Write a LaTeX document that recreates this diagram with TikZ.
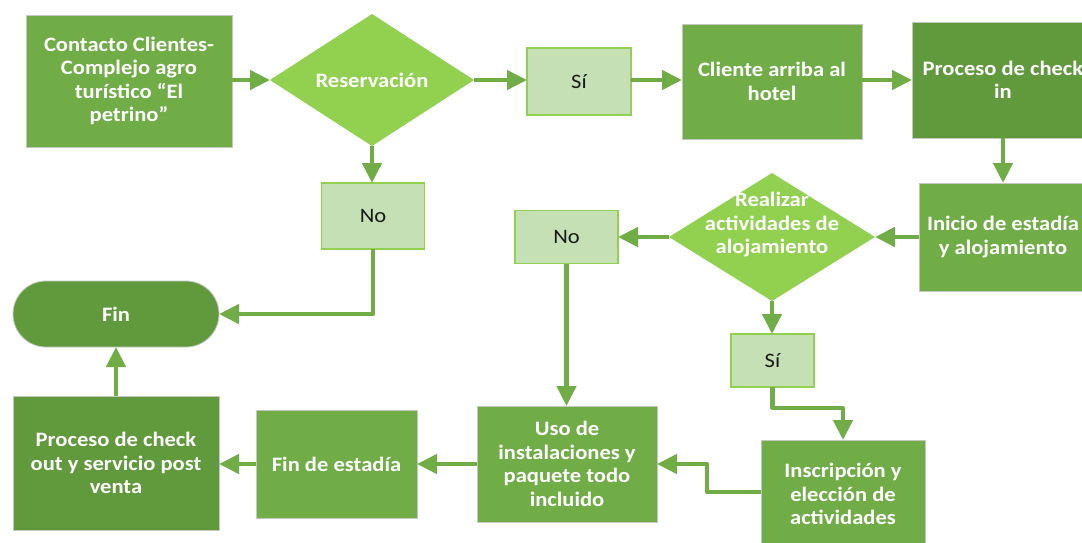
\documentclass[tikz,border=0pt]{standalone}
\usepackage{fontspec}
\setmainfont{Carlito}[FakeStretch=1.1]
\usetikzlibrary{shapes.geometric,arrows.meta}
\definecolor{gmain}{HTML}{70AD47}
\definecolor{gdark}{HTML}{619A3C}
\definecolor{gdia}{HTML}{92D050}
\definecolor{glight}{HTML}{C5E0B4}
\definecolor{gedge}{HTML}{C4C8C0}
\tikzset{
  box/.style={rectangle, fill=gmain, draw=gedge, line width=0.8pt, inner sep=0pt, outer sep=0pt,
    text=white, align=center, font=\bfseries\fontsize{20.5}{23.5}\selectfont},
  dbox/.style={box, fill=gdark},
  finbox/.style={box, fill=gdark, rounded corners=33pt},
  dia/.style={diamond, fill=gdia, draw=none, inner sep=0pt, outer sep=0pt},
  wtxt/.style={text=white, align=center, inner sep=0pt, font=\bfseries\fontsize{20.5}{23.5}\selectfont},
  light/.style={rectangle, fill=glight, draw=gdia, line width=1.2pt, inner sep=0pt, outer sep=0pt,
    text=black!90, font=\fontsize{20.5}{23.5}\selectfont},
  conn/.style={draw=gmain, line width=4.5pt, line join=round, -{Triangle[length=20pt,width=19pt]}}
}
\begin{document}
\begin{tikzpicture}[x=1pt,y=-1pt]
\useasboundingbox (0,0) rectangle (1082,542);
\clip (0,0) rectangle (1082,542);
\fill[white] (0,0) rectangle (1082,542);

\node[box, minimum width=206pt, minimum height=132pt] (contacto) at (129,81) {Contacto Clientes-\\Complejo agro\\turístico “El\\petrino”};
\node[dia, minimum width=204pt, minimum height=132pt] (reserv) at (372,80) {};
\node[wtxt] (reservtxt) at (reserv.center) {Reservación};
\node[light, minimum width=104pt, minimum height=67pt] (si1) at (579,81.5) {Sí};
\node[box, minimum width=180pt, minimum height=115pt] (cliente) at (772,81.5) {Cliente arriba al\\hotel};
\node[dbox, minimum width=182pt, minimum height=116pt] (checkin) at (1003,80) {Proceso de check\\in};
\node[box, minimum width=168pt, minimum height=108pt] (inicio) at (1003,237) {Inicio de estadía\\y alojamiento};
\node[dia, minimum width=206pt, minimum height=128pt] (real) at (772,237) {};
\node[wtxt] (realtxt) at (772,225) {Realizar\\actividades de\\alojamiento};
\node[light, minimum width=103pt, minimum height=53pt] (no2) at (566.5,237) {No};
\node[light, minimum width=103pt, minimum height=66pt] (no1) at (373,216) {No};
\node[finbox, minimum width=206pt, minimum height=66pt] (fin) at (116,314) {Fin};
\node[dbox, minimum width=206pt, minimum height=134pt] (checkout) at (116,463) {Proceso de check\\out y servicio post\\venta};
\node[box, minimum width=161pt, minimum height=108pt] (finest) at (336.5,464) {Fin de estadía};
\node[box, minimum width=180pt, minimum height=116pt] (uso) at (567,464) {Uso de\\instalaciones y\\paquete todo\\incluido};
\node[light, minimum width=83pt, minimum height=53pt] (si2) at (772.5,360.5) {Sí};
\node[box, minimum width=164pt, minimum height=108pt] (insc) at (843,494) {Inscripción y\\elección de\\actividades};

\draw[conn] (contacto.east |- reserv.west) -- (reserv.west);
\draw[conn] (reserv.east) -- (reserv.east -| si1.west);
\draw[conn] (si1.east |- reserv.east) -- (si1.east |- reserv.east -| cliente.west);
\draw[conn] (cliente.east |- reserv.east) -- (checkin.west |- reserv.east);
\draw[conn] (checkin.south) -- (inicio.north);
\draw[conn] (inicio.west) -- (real.east);
\draw[conn] (real.west) -- (no2.east);
\draw[conn] (real.south) -- (real.south |- si2.north);
\draw[conn] (reserv.south) -- (reserv.south |- no1.north);
\draw[conn] (no1.south) |- (fin.east);
\draw[conn] (checkout.north) -- (fin.south);
\draw[conn] (finest.west) -- (checkout.east |- finest.west);
\draw[conn] (uso.west) -- (finest.east);
\draw[conn] (no2.south) -- (no2.south |- uso.north);
\draw[conn] (si2.south) -- ++(0,21) -| (insc.north);
\draw[conn] (insc.west) ++(0,-2) -- ++(-54,0) |- (uso.east);
\end{tikzpicture}
\end{document}
